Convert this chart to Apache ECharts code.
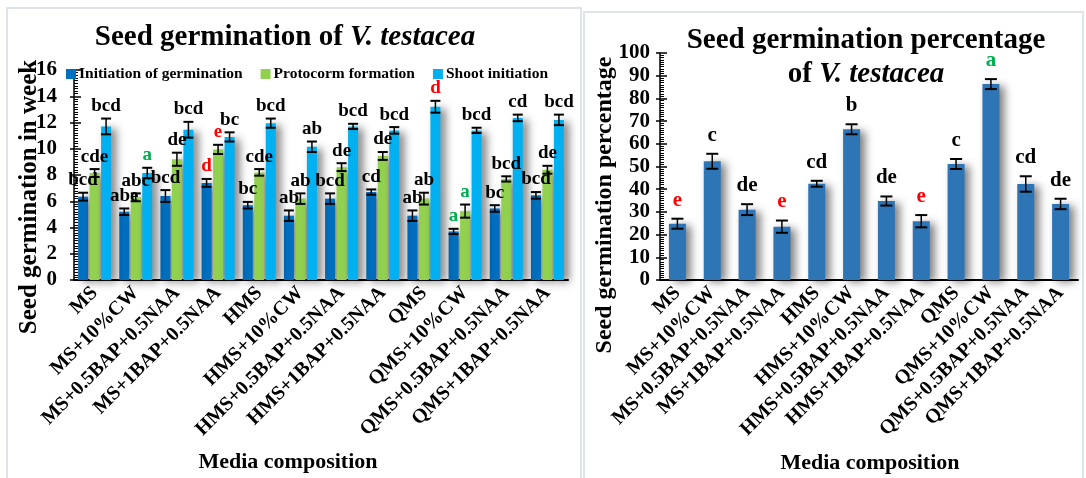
<!DOCTYPE html>
<html><head><meta charset="utf-8">
<script src="https://cdn.jsdelivr.net/npm/echarts@6/dist/echarts.min.js"></script>
<style>html,body{margin:0;padding:0;background:#fff}#c{width:1086px;height:478px}</style>
</head><body><div id="c"></div>
<script>
const categories = ['MS','MS+10%CW','MS+0.5BAP+0.5NAA','MS+1BAP+0.5NAA','HMS','HMS+10%CW','HMS+0.5BAP+0.5NAA','HMS+1BAP+0.5NAA','QMS','QMS+10%CW','QMS+0.5BAP+0.5NAA','QMS+1BAP+0.5NAA'];
const seriesNames = ['Initiation of germination','Protocorm formation','Shoot initiation'];
const initiation = [6.35,5.2,6.4,7.4,5.7,4.9,6.2,6.7,4.9,3.7,5.45,6.45];
const protocorm  = [8.15,6.3,9.2,9.95,8.2,6.2,8.6,9.45,6.2,5.25,7.7,8.4];
const shoot      = [11.7,8.15,11.45,10.9,11.95,10.15,11.7,11.4,13.2,11.4,12.35,12.2];
const initiationErr = [0.3,0.25,0.45,0.3,0.25,0.4,0.4,0.2,0.4,0.2,0.25,0.25];
const protocormErr  = [0.3,0.3,0.5,0.35,0.25,0.4,0.3,0.3,0.45,0.5,0.2,0.3];
const shootErr      = [0.6,0.4,0.6,0.35,0.35,0.4,0.2,0.25,0.45,0.2,0.25,0.4];
const initiationSig = ['bcd','abe','bcd','d','bc','ab','bcd','cd','ab','a','bc','bcd'];
const protocormSig  = ['cde','abc','de','e','cde','ab','de','de','ab','a','bcd','de'];
const shootSig      = ['bcd','a','bcd','bc','bcd','ab','bcd','bcd','d','bcd','cd','bcd'];
const percent    = [24.8,52.3,31.0,23.5,42.4,66.4,34.8,25.9,51.1,86.3,42.3,33.5];
const percentErr = [2.2,3.3,2.4,2.7,1.3,2.2,2.0,2.7,2.2,2.2,3.4,2.3];
const percentSig = ['e','c','de','e','cd','b','de','e','c','a','cd','de'];
const yTicksLeft = {min:0,max:16,interval:2};
const yTicksRight = {min:0,max:100,interval:10};

const FONT = '"Liberation Serif","DejaVu Serif",serif';
const leftColors = ['#0070C0','#92D050','#00B0F0'];
const rightColor = '#2E75B6';
const RED = '#FF0000', GREEN = '#00B050';
function sigColor(s, redSet){ if(s==='a') return GREEN; if(redSet.indexOf(s)>=0) return RED; return '#000'; }

const chart = echarts.init(document.getElementById('c'));
const leftVals = [initiation, protocorm, shoot];
const leftErrs = [initiationErr, protocormErr, shootErr];
const leftSigs = [initiationSig, protocormSig, shootSig];
const BW = 10, GAP = 0.15;
const shadow = {shadowBlur:8, shadowColor:'rgba(0,0,0,0.5)', shadowOffsetX:5, shadowOffsetY:2};

function errSeries(xi, yi, vals, errs, sigs, offset, cap, redSet, fs, lift){
  return {
    type:'custom', xAxisIndex:xi, yAxisIndex:yi, z:5, silent:true,
    data: vals.map((v,i)=>[i,v,errs[i],i]),
    renderItem:function(params, api){
      const i = api.value(0), v = api.value(1), e = api.value(2);
      const t = api.coord([i, v+e]), b = api.coord([i, v-e]);
      const x = t[0] + offset;
      const s = sigs[i];
      return {type:'group', children:[
        {type:'line', shape:{x1:x,y1:t[1],x2:x,y2:b[1]}, style:{stroke:'#000',lineWidth:1.5}},
        {type:'line', shape:{x1:x-cap,y1:t[1],x2:x+cap,y2:t[1]}, style:{stroke:'#000',lineWidth:2}},
        {type:'line', shape:{x1:x-cap,y1:b[1],x2:x+cap,y2:b[1]}, style:{stroke:'#000',lineWidth:2}},
        {type:'text', style:{text:s, x:x, y:t[1]-lift, align:'center', verticalAlign:'bottom',
          font:'bold '+fs+'px '+FONT, fill:sigColor(s, redSet)}}
      ]};
    }
  };
}

const series = [];
leftVals.forEach((vals, k)=>{
  series.push({type:'bar', name:seriesNames[k], xAxisIndex:0, yAxisIndex:0, data:vals,
    barWidth:BW, barGap:(GAP*100)+'%', itemStyle:Object.assign({color:leftColors[k]}, shadow)});
});
leftVals.forEach((vals, k)=>{
  series.push(errSeries(0,0,vals,leftErrs[k],leftSigs[k],(k-1)*BW*(1+GAP),5,['d','e'],19,3));
});
series.push({type:'bar', name:'Seed germination percentage', xAxisIndex:1, yAxisIndex:2, data:percent,
  barWidth:17, itemStyle:Object.assign({color:rightColor}, shadow)});
series.push(errSeries(1,2,percent,percentErr,percentSig,0,6,['e'],21,8));

function yAxisPair(gi, t, margin, fs){
  return [
    {type:'value', gridIndex:gi, min:t.min, max:t.max, interval:t.interval,
     axisLine:{show:true, lineStyle:{color:'#000', width:1.5}},
     axisTick:{show:true, inside:true, length:7, lineStyle:{color:'#000', width:1.5}},
     minorTick:{show:true, splitNumber:10, length:4, lineStyle:{color:'#000', width:1}},
     splitLine:{show:false}, minorSplitLine:{show:false},
     axisLabel:{margin:margin, showMinLabel:true, showMaxLabel:true, color:'#000', fontFamily:FONT, fontWeight:'bold', fontSize:fs}},
    {type:'value', gridIndex:gi, min:t.min, max:t.max, interval:t.interval, position:'left',
     axisLine:{show:false}, axisTick:{show:true, inside:false, length:4, lineStyle:{color:'#000', width:1.5}},
     axisLabel:{show:false}, splitLine:{show:false}}
  ];
}
const xAxisCommon = {type:'category', data:categories,
  axisLine:{lineStyle:{color:'#000', width:2}}, axisTick:{show:false},
  axisLabel:{interval:0, rotate:45, margin:10, color:'#000', fontFamily:FONT, fontWeight:'bold', fontSize:20}};

const richTitle = {
  b:{fontFamily:FONT, fontWeight:'bold', fontSize:29, lineHeight:34, fill:'#000'},
  i:{fontFamily:FONT, fontWeight:'bold', fontStyle:'italic', fontSize:29, lineHeight:34, fill:'#000'}
};

const option = {
  animation:false,
  backgroundColor:'#fff',
  legend:{data:seriesNames, left:61, top:61, itemWidth:10, itemHeight:10, itemGap:18, icon:'rect',
    textStyle:{color:'#000', fontFamily:FONT, fontWeight:'bold', fontSize:15.5, padding:[0,0,0,-2]}},
  grid:[{left:74, top:70, width:494, height:210}, {left:660, top:53, width:418, height:227}],
  xAxis:[Object.assign({gridIndex:0}, xAxisCommon), Object.assign({gridIndex:1}, xAxisCommon)],
  yAxis:[].concat(yAxisPair(0, yTicksLeft, 17, 21), yAxisPair(1, yTicksRight, 10, 21)),
  series:series,
  graphic:[
    {type:'rect', shape:{x:7, y:8, width:574, height:480}, style:{fill:'none', stroke:'#dfe4ea', lineWidth:2}, z:-1},
    {type:'rect', shape:{x:584, y:12, width:499, height:476}, style:{fill:'none', stroke:'#dfe4ea', lineWidth:2}, z:-1},
    {type:'text', style:{text:'{b|Seed germination of }{i|V. testacea}', x:285, y:38, align:'center', verticalAlign:'middle', rich:richTitle}},
    {type:'text', style:{text:'{b|Seed germination percentage}\n{b|of }{i|V. testacea}', x:866, y:58, align:'center', verticalAlign:'middle', rich:richTitle}},
    {type:'text', rotation:Math.PI/2, x:30, y:197, style:{text:'Seed germination in week', x:0, y:0, align:'center', verticalAlign:'middle', font:'bold 25px '+FONT, fill:'#000'}},
    {type:'text', rotation:Math.PI/2, x:605, y:205, style:{text:'Seed germination percentage', x:0, y:0, align:'center', verticalAlign:'middle', font:'bold 24px '+FONT, fill:'#000'}},
    {type:'text', style:{text:'Media composition', x:288, y:462, align:'center', verticalAlign:'middle', font:'bold 22px '+FONT, fill:'#000'}},
    {type:'text', style:{text:'Media composition', x:870, y:463, align:'center', verticalAlign:'middle', font:'bold 22px '+FONT, fill:'#000'}}
  ]
};
chart.setOption(option);
</script></body></html>
